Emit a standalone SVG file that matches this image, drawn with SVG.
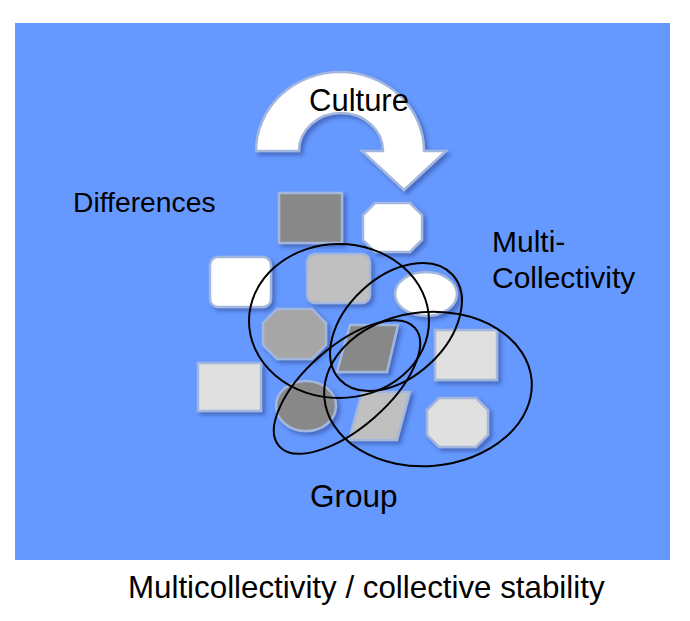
<svg xmlns="http://www.w3.org/2000/svg" width="690" height="621" viewBox="0 0 690 621">
<defs>
<filter id="sh" x="-20%" y="-20%" width="150%" height="150%">
<feDropShadow dx="3" dy="3" stdDeviation="2" flood-color="#2a4a99" flood-opacity="0.6"/>
</filter>
</defs>
<style>
.s{stroke:#a3b7dd;stroke-width:2.5;filter:url(#sh)}
.w{fill:#ffffff}.g1{fill:#888888}.g2{fill:#a6a6a6}.g3{fill:#c0c0c0}.g4{fill:#e0e0e0}
.e{fill:none;stroke:#000000;stroke-width:2}
.t{font-family:"Liberation Sans",Arial,sans-serif;font-size:28px;fill:#000000}
</style>
<rect x="0" y="0" width="690" height="621" fill="#ffffff"/>
<rect x="15" y="23" width="655" height="537" fill="#6699ff"/>
<g id="arrow">
<path class="s w" d="M256,151 A84,79 0 0 1 424,151 L446,151 L404,190 L362,151 L383,151 A42,38 0 0 0 299,151 Z"/>
</g>
<g id="n1"><rect class="s g1" x="279" y="193" width="63" height="50"/></g>
<g id="n2"><polygon class="s w" points="375,203 410,203 422,215 422,240 410,252 375,252 363,240 363,215"/></g>
<g id="n3"><rect class="s w" x="210" y="257" width="61" height="50" rx="8"/></g>
<g id="n4"><rect class="s g3" x="307" y="254" width="63" height="49" rx="8"/></g>
<g id="n5"><ellipse class="s w" cx="426" cy="294" rx="31" ry="22"/></g>
<g id="n6"><polygon class="s g2" points="277,309 312,309 326,323 326,345 312,359 277,359 263,345 263,323"/></g>
<g id="n7"><polygon class="s g1" points="350,325 398,325 387,372 337,372"/></g>
<g id="n8"><rect class="s g4" x="435" y="330" width="62" height="50"/></g>
<g id="n9"><rect class="s g4" x="198" y="363" width="63" height="48"/></g>
<g id="n10"><ellipse class="s g1" cx="306" cy="406" rx="30" ry="25"/></g>
<g id="n11"><polygon class="s g3" points="362,392 410,392 397,440 349,440"/></g>
<g id="n12"><polygon class="s g4" points="439,398 476,398 488,410 488,435 476,447 439,447 427,435 427,410"/></g>
<g id="connectors">
<ellipse class="e" cx="339" cy="321" rx="90" ry="77"/>
<ellipse class="e" cx="396" cy="327" rx="77" ry="50" transform="rotate(-43 396 327)"/>
<ellipse class="e" cx="347" cy="387" rx="90" ry="41" transform="rotate(-41 347 387)"/>
<ellipse class="e" cx="428" cy="389" rx="104" ry="77" transform="rotate(-5 428 389)"/>
</g>
<g id="labels">
<text class="t" x="309" y="111" style="font-size:31px">Culture</text>
<text class="t" x="73" y="212" style="font-size:28.3px">Differences</text>
<text class="t" x="492" y="252" style="font-size:30px">Multi-</text>
<text class="t" x="492" y="288" style="font-size:30px">Collectivity</text>
<text class="t" x="310" y="507" style="font-size:31.5px">Group</text>
<text class="t" x="128" y="598" style="font-size:31.3px">Multicollectivity / collective stability</text>
</g>
</svg>
